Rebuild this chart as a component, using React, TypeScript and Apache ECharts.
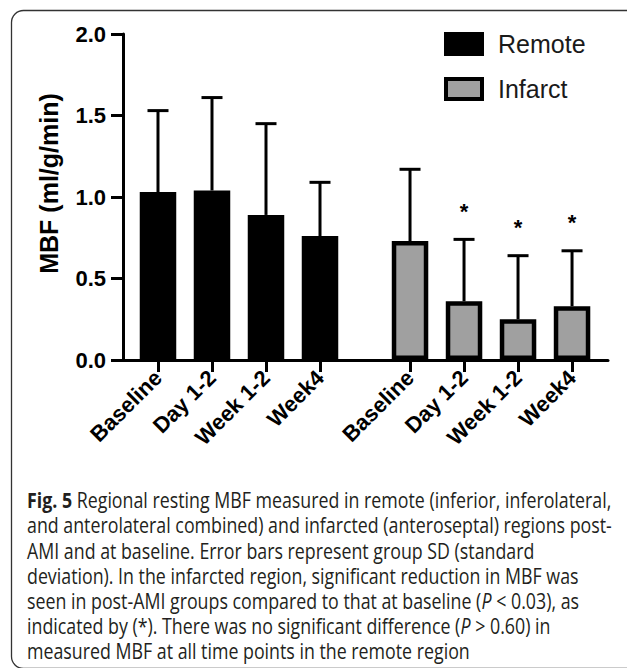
import React, { useEffect, useRef } from "react";
import * as echarts from "echarts";

const categories = ["Baseline", "Day 1-2", "Week 1-2", "Week4"];
const remotePositions = [0, 1, 2, 3];
const infarctPositions = [4.667, 5.667, 6.667, 7.667];
const remoteMean = [1.03, 1.04, 0.89, 0.76];
const remoteSD = [0.5, 0.57, 0.56, 0.33];
const infarctMean = [0.73, 0.36, 0.25, 0.33];
const infarctSD = [0.44, 0.38, 0.39, 0.34];
const infarctSignificant = [false, true, true, true];
const seriesNames = ["Remote", "Infarct"];
const yAxisTitle = "MBF (ml/g/min)";

const captionLines = [
  "{b|Fig. 5} Regional resting MBF measured in remote (inferior, inferolateral,",
  "and anterolateral combined) and infarcted (anteroseptal) regions post-",
  "AMI and at baseline. Error bars represent group SD (standard",
  "deviation). In the infarcted region, significant reduction in MBF was",
  "seen in post-AMI groups compared to that at baseline ({i|P} < 0.03), as",
  "indicated by (*). There was no significant difference ({i|P} > 0.60) in",
  "measured MBF at all time points in the remote region",
];

const AXIS_FONT = "'Liberation Sans', Arial, sans-serif";
const CAPTION_FONT = "'Open Sans', 'Noto Sans', sans-serif";

export default function App() {
  const ref = useRef<HTMLDivElement>(null);

  useEffect(() => {
    document.body.style.margin = "0";
    const chart = echarts.init(ref.current!, null, { renderer: "svg" });

    const allPositions = [...remotePositions, ...infarctPositions];
    const labelFor = (v: number) => {
      let best = 0;
      let bd = Infinity;
      allPositions.forEach((p, i) => {
        const d = Math.abs(p - v);
        if (d < bd) {
          bd = d;
          best = i;
        }
      });
      return categories[best % categories.length];
    };

    // caption horizontal scale: reference line 2 spans 585 px
    const capSize = 22;
    let scaleX = 0.8;
    try {
      const c = document.createElement("canvas").getContext("2d")!;
      c.font = `${capSize}px ${CAPTION_FONT}`;
      const w = c.measureText(captionLines[1]).width;
      if (w > 0) scaleX = 585 / w;
    } catch (e) {}

    const captionGraphics = captionLines.map((line, i) => ({
      type: "text",
      x: 27,
      y: 500 + 25.2 * i,
      scaleX,
      style: {
        text: line,
        fontFamily: CAPTION_FONT,
        fontSize: capSize,
        fill: "#231f20",
        verticalAlign: "middle",
        align: "left",
        rich: {
          b: { fontFamily: CAPTION_FONT, fontSize: capSize, fontWeight: "bold", fill: "#231f20" },
          i: { fontFamily: CAPTION_FONT, fontSize: capSize, fontStyle: "italic", fill: "#231f20" },
        },
      },
    }));

    const errData = [
      ...remotePositions.map((x, i) => [x, remoteMean[i], remoteSD[i]]),
      ...infarctPositions.map((x, i) => [x, infarctMean[i], infarctSD[i]]),
    ];
    const starData = infarctPositions
      .map((x, i) => [x, infarctMean[i] + infarctSD[i], infarctSignificant[i] ? 1 : 0])
      .filter((d) => d[2] === 1);

    const option: any = {
      animation: false,
      grid: { left: 123, right: 19, top: 34, bottom: 308 },
      graphic: [
        {
          type: "rect",
          z: -10,
          shape: { x: 11.5, y: 10.5, width: 700, height: 658, r: 12 },
          style: { fill: "none", stroke: "#333", lineWidth: 1.3 },
        },
        ...captionGraphics,
      ],
      legend: {
        orient: "vertical",
        left: 439,
        top: 24,
        itemWidth: 36,
        itemHeight: 20,
        itemGap: 15,
        icon: "rect",
        selectedMode: false,
        textStyle: {
          fontFamily: AXIS_FONT,
          fontSize: 25,
          color: "#1a1a1a",
          lineHeight: 30,
          padding: [0, 0, 0, 11],
        },
        data: [
          { name: seriesNames[0], itemStyle: { color: "#000", borderColor: "#000", borderWidth: 4 } },
          { name: seriesNames[1], itemStyle: { color: "#a0a0a0", borderColor: "#000", borderWidth: 4 } },
        ],
      },
      xAxis: {
        type: "value",
        min: -0.648,
        max: 8.333,
        axisLine: { show: true, onZero: false, lineStyle: { color: "#000", width: 3 } },
        axisTick: {
          show: true,
          customValues: allPositions,
          length: 12,
          lineStyle: { color: "#000", width: 3 },
        },
        axisLabel: {
          customValues: allPositions,
          rotate: 45,
          margin: 14,
          formatter: (v: number) => labelFor(v),
          fontFamily: AXIS_FONT,
          fontWeight: "bold",
          fontSize: 22,
          color: "#000",
        },
        splitLine: { show: false },
      },
      yAxis: {
        type: "value",
        min: 0,
        max: 2,
        interval: 0.5,
        name: yAxisTitle,
        nameLocation: "middle",
        nameRotate: 90,
        nameGap: 62,
        nameTextStyle: {
          fontFamily: AXIS_FONT,
          fontWeight: "bold",
          fontSize: 25,
          color: "#000",
          padding: [0, 0, 0, 27],
        },
        axisLine: { show: true, onZero: false, lineStyle: { color: "#000", width: 3 } },
        axisTick: { show: true, length: 12, lineStyle: { color: "#000", width: 3 } },
        axisLabel: {
          margin: 17,
          fontFamily: AXIS_FONT,
          fontWeight: "bold",
          fontSize: 22,
          color: "#000",
          formatter: (v: number) => v.toFixed(1),
        },
        splitLine: { show: false },
      },
      series: [
        {
          name: seriesNames[0],
          type: "bar",
          barWidth: 36.5,
          barGap: "-100%",
          itemStyle: { color: "#000", borderColor: "#000", borderWidth: 4.5 },
          data: remotePositions.map((x, i) => [x, remoteMean[i]]),
        },
        {
          name: seriesNames[1],
          type: "bar",
          barWidth: 36.5,
          barGap: "-100%",
          itemStyle: { color: "#a0a0a0", borderColor: "#000", borderWidth: 4.5 },
          data: infarctPositions.map((x, i) => [x, infarctMean[i]]),
        },
        {
          name: "errors",
          type: "custom",
          z: 3,
          data: errData,
          renderItem: (params: any, api: any) => {
            const x = api.value(0);
            const m = api.value(1);
            const s = api.value(2);
            const b = api.coord([x, m]);
            const t = api.coord([x, m + s]);
            return {
              type: "group",
              children: [
                {
                  type: "line",
                  shape: { x1: b[0], y1: b[1], x2: t[0], y2: t[1] },
                  style: { stroke: "#000", lineWidth: 3 },
                },
                {
                  type: "line",
                  shape: { x1: t[0] - 10.5, y1: t[1], x2: t[0] + 10.5, y2: t[1] },
                  style: { stroke: "#000", lineWidth: 3 },
                },
              ],
            };
          },
        },
        {
          name: "stars",
          type: "custom",
          z: 3,
          data: starData,
          renderItem: (params: any, api: any) => {
            const t = api.coord([api.value(0), api.value(1)]);
            return {
              type: "text",
              x: t[0],
              y: t[1] - 28,
              style: {
                text: "*",
                fontFamily: AXIS_FONT,
                fontWeight: "bold",
                fontSize: 22,
                fill: "#000",
                align: "center",
                verticalAlign: "middle",
              },
            };
          },
        },
      ],
    };

    chart.setOption(option);
    return () => chart.dispose();
  }, []);

  return <div ref={ref} style={{ width: 627, height: 668 }} />;
}
